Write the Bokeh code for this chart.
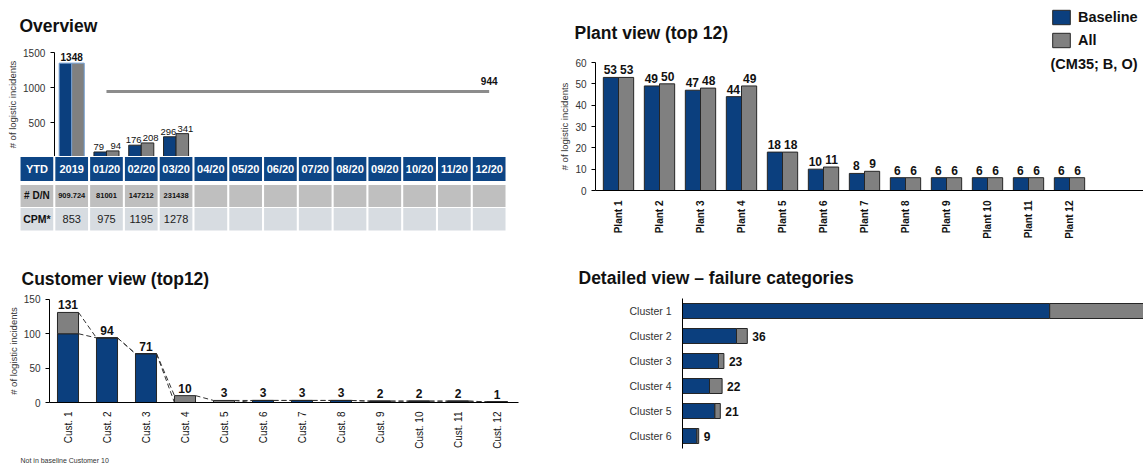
import math
import numpy as np
from bokeh.plotting import figure
from bokeh.models import (Range1d, FixedTicker, Label, Legend, LegendItem)
from bokeh.layouts import row, column
from bokeh.core.properties import value
from bokeh.embed import file_html
from bokeh.resources import INLINE

# ---------------- data ----------------
ov_periods = ["2019", "01/20", "02/20", "03/20", "04/20", "05/20", "06/20",
              "07/20", "08/20", "09/20", "10/20", "11/20", "12/20"]
ov_baseline = [1348, 79, 176, 296]
ov_all = [1348, 94, 208, 341]
ov_target = 944
ov_ticks = [500, 1000, 1500]

table_first = "YTD"
dn_label = "# D/N"
dn_values = ["909.724", "81001", "147212", "231438"]
cpm_label = "CPM*"
cpm_values = [853, 975, 1195, 1278]

plants = ["Plant 1", "Plant 2", "Plant 3", "Plant 4", "Plant 5", "Plant 6",
          "Plant 7", "Plant 8", "Plant 9", "Plant 10", "Plant 11", "Plant 12"]
plant_baseline = [53, 49, 47, 44, 18, 10, 8, 6, 6, 6, 6, 6]
plant_all = [53, 50, 48, 49, 18, 11, 9, 6, 6, 6, 6, 6]
plant_ticks = [0, 10, 20, 30, 40, 50, 60]

customers = ["Cust. 1", "Cust. 2", "Cust. 3", "Cust. 4", "Cust. 5", "Cust. 6",
             "Cust. 7", "Cust. 8", "Cust. 9", "Cust. 10", "Cust. 11", "Cust. 12"]
cust_baseline = [100, 94, 71, 0, 0, 3, 3, 3, 2, 2, 2, 1]
cust_all = [131, 94, 71, 10, 3, 3, 3, 3, 2, 2, 2, 1]
cust_ticks = [0, 50, 100, 150]

clusters = ["Cluster 1", "Cluster 2", "Cluster 3", "Cluster 4", "Cluster 5", "Cluster 6"]
cluster_baseline = [204, 30, 20, 15, 18, 8]
cluster_all = [262, 36, 23, 22, 21, 9]

# ---------------- style ----------------
BLUE = "#0B3F7E"
GRAY = "#808080"
EDGE = "#262626"
HEAD = "#0D4585"
ROW2 = "#BFBFBF"
ROW3 = "#D7DCE1"
FONT = "Liberation Sans"
TXT = "#111111"


def xr(ppu, anchor_val, anchor_px, size):
    s = anchor_val - anchor_px / ppu
    return Range1d(s, s + size / ppu)


def yr(ppu, anchor_val, anchor_px, size, down=False):
    # anchor_px measured from top of the figure
    if down:  # values increase downwards
        top = anchor_val - anchor_px / ppu
        return Range1d(top + size / ppu, top)
    top = anchor_val + anchor_px / ppu
    return Range1d(top - size / ppu, top)


def base_fig(w, h, x_range, y_range, **kw):
    p = figure(width=w, height=h, x_range=x_range, y_range=y_range,
               min_border=0, toolbar_location=None, output_backend="svg", **kw)
    p.outline_line_color = None
    p.xgrid.visible = False
    p.ygrid.visible = False
    p.background_fill_color = "white"
    p.border_fill_color = "white"
    return p


def style_axis(ax, ticks, loc, bounds, size="10px"):
    ax.ticker = FixedTicker(ticks=ticks)
    ax.fixed_location = loc
    ax.bounds = bounds
    ax.axis_line_color = "black"
    ax.major_tick_line_color = "black"
    ax.major_tick_out = 4
    ax.major_tick_in = 0
    ax.minor_tick_line_color = None
    ax.major_label_text_font = FONT
    ax.major_label_text_font_size = size
    ax.major_label_text_color = "#333333"
    ax.major_label_standoff = 5


def yaxis_label(ax):
    ax.axis_label = "# of logistic incidents"
    ax.axis_label_text_font = FONT
    ax.axis_label_text_font_size = "9.5px"
    ax.axis_label_text_font_style = "normal"
    ax.axis_label_text_color = "#333333"
    ax.axis_label_standoff = 2


def label(p, text, x, y, size=17.5, bold=True, color=TXT):
    # y = wanted baseline, in px up from the figure bottom
    p.add_layout(Label(x=x, y=y + 0.4 * size, x_units="screen", y_units="screen",
                       text=text, text_font=FONT, text_font_size=f"{size}px",
                       text_font_style="bold" if bold else "normal",
                       text_color=color, text_baseline="alphabetic"))


def vals(p, x, y, txt, size, bold, dx=0, align="center", baseline="bottom", yo=-2,
         color=TXT):
    p.text(x=x, y=y, text=txt, text_align=align, text_baseline=baseline,
           x_offset=dx, y_offset=yo if baseline == "bottom" else 0,
           text_font=value(FONT), text_font_size=value(size),
           text_font_style="bold" if bold else "normal", text_color=color)


LW, RW = 556, 587
COLP = 34.79          # table column pitch (px)
COL_X0 = 19           # left edge of first table column (px)

# ================= Overview (bars) =================
HA = 156
ov_x = np.arange(1, len(ov_periods) + 1)           # column index in table
pA = base_fig(LW, HA, xr(COLP, 0, COL_X0 + COLP / 2, LW), yr(0.07, 0, 157, HA),
              x_axis_location=None)
ax = pA.yaxis[0]
style_axis(ax, ov_ticks, 0.5, (0, ov_ticks[-1]))
yaxis_label(ax)
n = len(ov_baseline)
xb = ov_x[:n]
lc = ["#6E9BD0" if m == ov_periods[0] else EDGE for m in ov_periods[:n]]
pA.vbar(x=xb - 0.18, top=ov_baseline, width=0.36, fill_color=BLUE, line_color=lc)
pA.vbar(x=xb + 0.18, top=ov_all, width=0.36, fill_color=GRAY, line_color=lc)
vals(pA, xb[1:] - 0.22, ov_baseline[1:], [str(v) for v in ov_baseline[1:]], "9.5px", False)
vals(pA, xb[1:] + 0.27, ov_all[1:], [str(v) for v in ov_all[1:]], "9.5px", False)
vals(pA, xb[:1], ov_all[:1], [str(ov_all[0])], "10px", True)
pA.line(x=ov_x[1:], y=[ov_target] * (len(ov_x) - 1), line_color="#8C8C8C", line_width=3)
vals(pA, ov_x[-1:], [ov_target], [str(ov_target)], "10px", True, yo=-6)
label(pA, "Overview", 19, HA - 32)

# ================= Overview (table) =================
HB = 94
cols = [table_first] + ov_periods
cx_t = np.arange(len(cols))
pB = base_fig(LW, HB, xr(COLP, 0, COL_X0 + COLP / 2, LW),
              yr(24.5, 0, 12.5, HB, down=True),
              x_axis_location=None, y_axis_location=None)
pB.rect(x=cx_t, y=[0] * len(cols), width=0.94, height=0.98, fill_color=HEAD,
        line_color=None)
pB.rect(x=cx_t, y=[1.1] * len(cols), width=0.94, height=0.9, fill_color=ROW2,
        line_color=None)
pB.rect(x=cx_t, y=[2.05] * len(cols), width=0.94, height=0.92, fill_color=ROW3,
        line_color=None)
vals(pB, cx_t, [0] * len(cols), cols, "11px", True, baseline="middle", color="white")
vals(pB, [0], [1.1], [dn_label], "10px", True, baseline="middle")
vals(pB, cx_t[1:1 + len(dn_values)], [1.1] * len(dn_values), dn_values, "7.5px", True,
     baseline="middle")
vals(pB, [0], [2.05], [cpm_label], "10.5px", True, baseline="middle")
vals(pB, cx_t[1:1 + len(cpm_values)], [2.05] * len(cpm_values),
     [str(v) for v in cpm_values], "11px", False, baseline="middle", color="#222222")
label(pB, "*Baseline evaluation", 22, HB - 243, size=7, bold=False, color="#333333")

# ================= Customer view =================
HC = 216
cx = np.arange(1, len(customers) + 1)
cw = 0.54
pC = base_fig(LW, HC, xr(39, 1, 67.5, LW), yr(0.6875, 0, 152, HC))
ax = pC.yaxis[0]
ax_loc = 1 - 18.5 / 39
style_axis(ax, cust_ticks, ax_loc, (0, cust_ticks[-1]))
yaxis_label(ax)
pC.vbar(x=cx, bottom=0, top=cust_baseline, width=cw, fill_color=BLUE, line_color=EDGE)
pC.vbar(x=cx, bottom=cust_baseline, top=cust_all, width=cw, fill_color=GRAY,
        line_color=EDGE)
pC.segment(x0=cx[:-1] + cw / 2, y0=cust_all[:-1], x1=cx[1:] - cw / 2, y1=cust_all[1:],
           line_color="#333333", line_width=1, line_dash="5 3")
pC.segment(x0=cx[:-1] + cw / 2, y0=cust_baseline[:-1], x1=cx[1:] - cw / 2,
           y1=cust_baseline[1:], line_color="#333333", line_width=1, line_dash="5 3")
vals(pC, cx, cust_all, [str(v) for v in cust_all], "12px", True, yo=-3)
xa = pC.xaxis[0]
style_axis(xa, list(cx), 0, (ax_loc, cx[-1] + 0.27 + 10.5 / 39))
xa.major_label_overrides = {int(i): c for i, c in zip(cx, customers)}
xa.major_label_orientation = math.pi / 2
xa.major_tick_line_color = None
xa.major_label_text_color = TXT
xa.major_label_standoff = 5
label(pC, "Customer view (top12)", 21, HC - 35)
label(pC, "Not in baseline Customer 10", 20, 3, size=7, bold=False, color="#333333")

# ================= Plant view =================
HD = 265
px = np.arange(1, len(plants) + 1)
x_p = xr(41, 1, 62, RW)
pD = base_fig(RW, HD, x_p, yr(128 / 60, 0, 190, HD))
ax = pD.yaxis[0]
p_loc = 1 - 23 / 41
style_axis(ax, plant_ticks, p_loc, (0, plant_ticks[-1]))
yaxis_label(ax)
rb = pD.vbar(x=px - 0.185, top=plant_baseline, width=0.37, fill_color=BLUE,
             line_color=EDGE)
rg = pD.vbar(x=px + 0.185, top=plant_all, width=0.37, fill_color=GRAY, line_color=EDGE)
vals(pD, px - 0.2, plant_baseline, [str(v) for v in plant_baseline], "12px", True, yo=-3)
vals(pD, px + 0.2, plant_all, [str(v) for v in plant_all], "12px", True, yo=-3)
xa = pD.xaxis[0]
style_axis(xa, list(px), 0, (p_loc, x_p.end))
xa.major_label_overrides = {int(i): c for i, c in zip(px, plants)}
xa.major_label_orientation = math.pi / 2
xa.major_tick_line_color = None
xa.major_label_text_font_style = "bold"
xa.major_label_text_color = TXT
xa.major_label_standoff = 6
label(pD, "Plant view (top 12)", 18, HD - 39)
GH, GS = 18, 5
leg = Legend(items=[LegendItem(label="Baseline", renderers=[rb]),
                    LegendItem(label="All", renderers=[rg])],
             location=(494, HD - 8 - (2 * GH + GS)), orientation="vertical",
             glyph_width=22, glyph_height=GH, label_height=GH, label_standoff=6,
             spacing=GS, padding=0, margin=0, border_line_color=None,
             background_fill_alpha=0, label_text_font=FONT,
             label_text_font_size="14.5px", label_text_font_style="bold",
             label_text_color=TXT)
pD.add_layout(leg)
label(pD, "(CM35; B, O)", 494, HD - 69, size=14.5)

# ================= Detailed view =================
HE = 201
ky = np.arange(1, len(clusters) + 1)
x_e = xr(1.8, 0, 126, RW)
pE = base_fig(RW, HE, x_e, yr(25, 1, 45.5, HE, down=True), x_axis_location=None)
pE.hbar(y=ky, left=0, right=cluster_baseline, height=0.6, fill_color=BLUE,
        line_color=EDGE)
pE.hbar(y=ky, left=cluster_baseline, right=cluster_all, height=0.6, fill_color=GRAY,
        line_color=EDGE)
shown = [i for i, v in enumerate(cluster_all) if v < x_e.end - 15]
vals(pE, [cluster_all[i] for i in shown], [ky[i] for i in shown],
     [str(cluster_all[i]) for i in shown], "12px", True, dx=5, align="left",
     baseline="middle")
ya = pE.yaxis[0]
style_axis(ya, list(ky), 0, (0.5, len(clusters) + 0.5), size="10.5px")
ya.major_label_overrides = {int(i): c for i, c in zip(ky, clusters)}
ya.major_tick_line_color = None
ya.major_label_standoff = 7
label(pE, "Detailed view \u2013 failure categories", 22, HE - 19)

layout = row(column(pA, pB, pC), column(pD, pE))
open("out.html", "w").write(file_html(layout, INLINE))
